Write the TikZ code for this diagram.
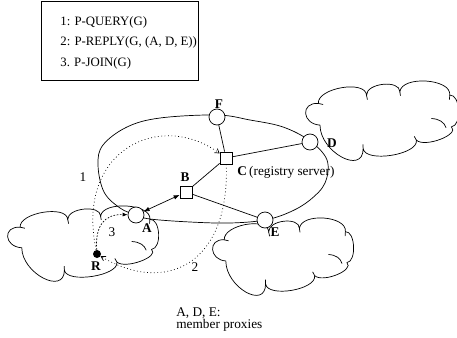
\documentclass[tikz,border=0pt]{standalone}
\usepackage{fontspec}
\setmainfont{Liberation Serif}
\usetikzlibrary{arrows.meta}

% Cloud outline in a 100 x 50 box (y grows downwards), with the little
% hooks where the puffs overlap.
\newcommand\cloudoutline{%
  \draw (9.8,29.3) .. controls (-2.0,28.57) and (-3.1,14.47) .. (8.7,15.2)
        .. controls (7.97,5.2) and (39.47,-0.2) .. (40.2,9.8)
        .. controls (40.2,1.93) and (62.0,-0.27) .. (62.0,7.6)
        .. controls (63.33,-3.07) and (95.93,-0.87) .. (94.6,9.8)
        .. controls (101.6,9.13) and (102.7,29.73) .. (95.7,30.4)
        .. controls (101.37,35.4) and (78.47,44.1) .. (72.8,39.1)
        .. controls (74.27,48.5) and (39.47,54.0) .. (38.0,44.6)
        .. controls (38.0,62.0) and (9.8,46.7) .. cycle;
  \draw (40.2,9.8) .. controls (40.3,11) .. (40.8,12.8);
  \draw (62.0,7.6) .. controls (62.0,8.8) .. (62.4,10.2);
  \draw (82.6,25.0) .. controls (88,25.3) and (91,27.5) .. (92.2,31);
  \draw (72.8,39.1) .. controls (71.9,38.2) .. (71.4,36.6);
  \draw (38.0,44.6) .. controls (37.8,43.4) .. (37.9,41.8);
  \draw (8.7,15.2) .. controls (10,15.3) .. (11.8,15.9);
  \draw (94.6,9.8) .. controls (94.3,11) .. (94.4,12.8);
}

\begin{document}
\begin{tikzpicture}[x=1pt,y=-1pt,line width=0.7pt,
  font=\fontsize{13.3}{13.3}\selectfont,
  proxy/.style={circle,draw,fill=white,minimum size=16pt,inner sep=0pt},
  server/.style={rectangle,draw,fill=white,minimum size=12pt,inner sep=0pt},
  host/.style={circle,fill=black,minimum size=8pt,inner sep=0pt},
  lbl/.style={inner sep=0pt,font=\fontsize{13.3}{13.3}\selectfont\bfseries},
  txt/.style={inner sep=0pt},
  legendtxt/.style={inner sep=0pt,anchor=base west,font=\fontsize{12.8}{12.8}\selectfont},
  msg/.style={dash pattern=on 0.8pt off 2.6pt},
  joinmsg/.style={dash pattern=on 1.6pt off 1.6pt},
  barb/.style={-{Straight Barb[length=4pt,width=5pt]}},
  fat/.style={{Latex[length=6pt,width=4.5pt]}-{Latex[length=6pt,width=4.5pt]}}]

\useasboundingbox (0,0) rectangle (457,337);

% legend box with the three messages
\node[draw,line width=0.8pt,anchor=north west,minimum width=157pt,
      minimum height=79pt,inner sep=0pt] (legend) at (41,1) {};
\node[legendtxt] (m1) at (60,25.5) {1: P-QUERY(G)};
\node[legendtxt] (m2) at (60,45.5) {2: P-REPLY(G, (A, D, E))};
\node[legendtxt] (m3) at (60,66.5) {3. P-JOIN(G)};

% the group: closed curve through the member proxies
\draw plot[smooth cycle,tension=0.6] coordinates {
  (98,165) (103,145) (127,127) (160,118) (217,115) (250,120) (283,127)
  (310,141) (327,160) (325,183) (310,200) (290,212) (265,220) (230,223)
  (190,222) (150,219) (136,215) (120,208) (104,192)};

% domains
\begin{scope}[shift={(305,80)},xscale=1.53,yscale=1.54] \cloudoutline \end{scope}
\begin{scope}[shift={(7,205)},xscale=1.51,yscale=1.46] \cloudoutline \end{scope}
\begin{scope}[shift={(212,217)},xscale=1.41,yscale=1.5] \cloudoutline \end{scope}

% proxies, servers and the receiver
\node[proxy] (F) at (217,117) {};
\node[proxy] (D) at (310,142) {};
\node[proxy] (E) at (265,220) {};
\node[proxy] (A) at (136,215) {};
\node[server] (C) at (226,158) {};
\node[server] (B) at (186,192) {};
\node[host] (R) at (97,254) {};

% labels
\node[lbl] (lF) at (219,104) {F};
\node[lbl] (lD) at (332,143) {D};
\node[lbl] (lE) at (275,232) {E};
\node[lbl] (lA) at (147,228) {A};
\node[lbl] (lB) at (185,177) {B};
\node[lbl] (lR) at (96,266) {R};
\node[txt,anchor=west] (lC) at (237,172) {\textbf{C}\,(registry server)};

% tree links
\draw (F) -- (C);
\draw (C) -- (D);
\draw (C) -- (B);
\draw (B) -- (E);
\draw[fat] (A) -- (B);

% messages
\draw[msg,barb] (R) .. controls (75,150) and (160,110) .. (C);
\draw[msg,barb] (C) .. controls (230,265) and (165,295) .. (R);
\draw[joinmsg,-{Latex[length=5pt,width=4pt]}] (R) .. controls (95,225) and (105,214) .. (A);
\node[txt] (n1) at (83,177) {1};
\node[txt] (n2) at (195,267) {2};
\node[txt] (n3) at (112,232) {3};

% note (base anchor sits on the last line)
\node[txt,anchor=base west,align=left,font=\fontsize{13.3}{12}\selectfont]
  (note) at (176,328) {A, D, E:\\member proxies};
\end{tikzpicture}
\end{document}
